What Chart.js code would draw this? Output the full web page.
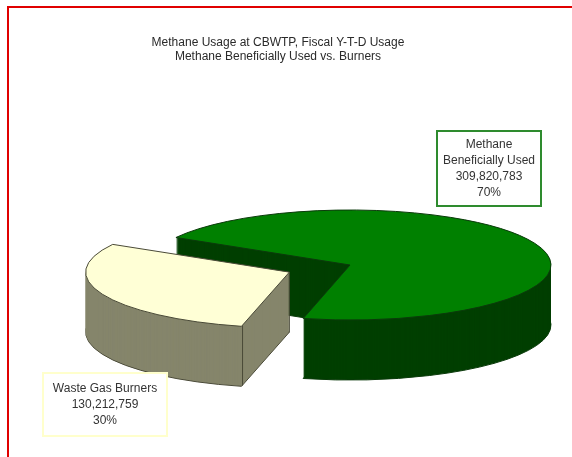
<!DOCTYPE html>
<html>
<head>
<meta charset="utf-8">
<script src="https://cdn.jsdelivr.net/npm/chart.js@4.4.1/dist/chart.umd.min.js"></script>
<style>
  html, body { margin: 0; padding: 0; background: #fff; }
  #wrap { position: relative; width: 572px; height: 457px; overflow: hidden; }
  #frame { position: absolute; left: 7px; top: 6px; width: 620px; height: 520px;
           border: 2px solid #e00000; box-sizing: border-box; }
  #c { position: absolute; left: 0; top: 0; }
</style>
</head>
<body>
<div id="wrap">
  <div id="frame"></div>
  <canvas id="c" width="572" height="457"></canvas>
</div>
<script>
// data
var categories = ['Methane Beneficially Used', 'Waste Gas Burners'];
var usage = [309820783, 130212759];
var titleLines = ['Methane Usage at CBWTP, Fiscal Y-T-D Usage', 'Methane Beneficially Used vs. Burners'];

// styling
var topColors = ['#008000', '#ffffd6'];
var wallColors = ['#003f00', '#85856b'];
var edgeColors = ['#0b3a0b', '#4a4a38'];
var boxBorders = ['#2e8b2e', '#ffffcc'];

// where the flattened pie and the label boxes sit
var pieLayout = { cx: 350, cy: 265, rx: 201, ry: 55, depth: 60, explode: 66 };
var labelBoxes = [
  { x: 437, y: 131, w: 104, h: 75 },
  { x: 43, y: 373, w: 124, h: 63 }
];

Chart.defaults.font.family = '"Liberation Sans", Arial, sans-serif';
Chart.defaults.font.size = 12;
Chart.defaults.color = '#333';

// draws the pie squashed into an ellipse, with its side walls stacked underneath
var pie3d = {
  id: 'pie3d',
  beforeDatasetsDraw: function(chart, args, opts) {
    var ctx = chart.ctx;
    var arcs = chart.getDatasetMeta(0).data;
    if (!arcs.length) return;
    var base = ctx.getTransform();
    var r = arcs[0].outerRadius, x0 = arcs[0].x, y0 = arcs[0].y;

    function place(dy) {
      ctx.setTransform(base);
      ctx.translate(opts.cx, opts.cy + dy);
      ctx.scale(opts.rx / r, opts.ry / r);
      ctx.translate(-x0, -y0);
    }

    // keep lines 1px wide whatever the squash is
    var origStroke = CanvasRenderingContext2D.prototype.stroke;
    ctx.stroke = function() {
      ctx.save();
      ctx.setTransform(base);
      ctx.lineWidth = 1;
      origStroke.apply(ctx, arguments);
      ctx.restore();
    };
    chart.$pie3d = { base: base };

    ctx.save();
    for (var d = opts.depth; d >= 1; d--) {
      place(d);
      arcs.forEach(function(arc, i) {
        var saved = arc.options;
        arc.options = Object.assign({}, saved, {
          backgroundColor: wallColors[i],
          borderColor: edgeColors[i],
          borderWidth: d === opts.depth ? 1 : 0
        });
        arc.draw(ctx);
        arc.options = saved;
      });
    }
    place(0);
  },
  afterDatasetsDraw: function(chart, args, opts) {
    var ctx = chart.ctx;
    var arcs = chart.getDatasetMeta(0).data;
    if (!arcs.length) return;
    var m = ctx.getTransform();
    delete ctx.stroke;
    ctx.restore();

    // vertical edges of the pulled-out slice
    var arc = arcs[1];
    var off = (arc.options.offset || 0) / 4;
    var mid = (arc.startAngle + arc.endAngle) / 2;
    var ax = arc.x + Math.cos(mid) * off, ay = arc.y + Math.sin(mid) * off;
    var corner = [ax + Math.cos(arc.startAngle) * arc.outerRadius,
                  ay + Math.sin(arc.startAngle) * arc.outerRadius];
    var pts = [[ax, ay], corner].map(function(p) {
      return m.transformPoint(new DOMPoint(p[0], p[1]));
    });
    ctx.save();
    ctx.setTransform(chart.$pie3d.base);
    ctx.strokeStyle = edgeColors[1];
    ctx.lineWidth = 1;
    ctx.beginPath();
    pts.forEach(function(p) {
      ctx.moveTo(p.x, p.y);
      ctx.lineTo(p.x, p.y + opts.depth);
    });
    ctx.stroke();
    ctx.restore();
  }
};

function wrapText(ctx, text, maxW) {
  var words = text.split(' '), lines = [], cur = '';
  words.forEach(function(w) {
    var test = cur ? cur + ' ' + w : w;
    if (cur && ctx.measureText(test).width > maxW) {
      lines.push(cur);
      cur = w;
    } else {
      cur = test;
    }
  });
  if (cur) lines.push(cur);
  return lines;
}

var dataLabels = {
  id: 'dataLabels',
  afterDraw: function(chart) {
    var ctx = chart.ctx;
    var values = chart.data.datasets[0].data;
    var total = values.reduce(function(a, b) { return a + b; }, 0);
    ctx.save();
    ctx.font = '12px "Liberation Sans", Arial, sans-serif';
    ctx.textAlign = 'center';
    ctx.textBaseline = 'middle';
    chart.data.labels.forEach(function(name, i) {
      var b = labelBoxes[i];
      ctx.fillStyle = '#fff';
      ctx.fillRect(b.x, b.y, b.w, b.h);
      ctx.strokeStyle = boxBorders[i];
      ctx.lineWidth = 2;
      ctx.strokeRect(b.x, b.y, b.w, b.h);
      var lines = wrapText(ctx, name, b.w - 6);
      lines.push(values[i].toLocaleString('en-US'));
      lines.push(Math.round(values[i] / total * 100) + '%');
      var lh = 16;
      var top = b.y + b.h / 2 - (lines.length - 1) * lh / 2;
      ctx.fillStyle = '#333';
      lines.forEach(function(t, k) {
        ctx.fillText(t, b.x + b.w / 2, top + k * lh);
      });
    });
    ctx.restore();
  }
};

new Chart(document.getElementById('c'), {
  type: 'pie',
  data: {
    labels: categories,
    datasets: [{
      data: usage,
      backgroundColor: topColors,
      borderColor: edgeColors,
      borderWidth: 1,
      hoverOffset: 0,
      clip: false,
      offset: function(c) {
        if (c.dataIndex !== 1 || !c.chart.chartArea) return 0;
        var a = c.chart.chartArea;
        var m = Math.min(a.width, a.height) - 1;
        var g = 4 * pieLayout.explode / pieLayout.rx;
        return g * m / (2 + g);
      }
    }]
  },
  options: {
    responsive: false,
    animation: false,
    events: [],
    rotation: 300,
    layout: { padding: { left: 0, right: 16, top: 0, bottom: 0 } },
    plugins: {
      legend: { display: false },
      tooltip: { enabled: false },
      title: {
        display: true,
        text: titleLines,
        color: '#2a2a2a',
        font: { size: 12, weight: 'normal' },
        padding: { top: 35, bottom: 10 }
      },
      pie3d: pieLayout
    }
  },
  plugins: [pie3d, dataLabels]
});
</script>
</body>
</html>
